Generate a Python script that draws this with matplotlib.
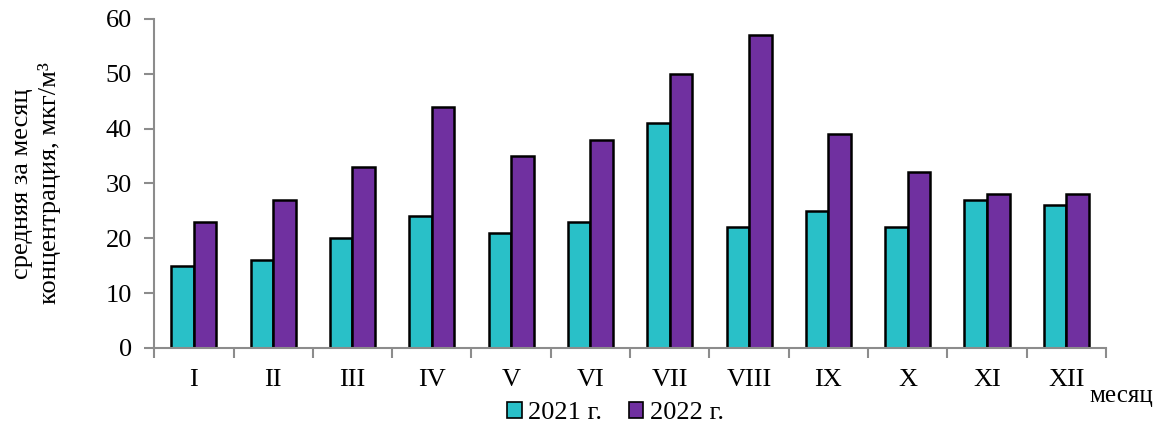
import numpy as np
import matplotlib.pyplot as plt
from matplotlib.patches import Patch

plt.rcParams['font.family'] = ['Liberation Serif', 'DejaVu Serif']

# Monthly mean concentration, by month
months = ["I", "II", "III", "IV", "V", "VI", "VII", "VIII", "IX", "X", "XI", "XII"]
conc_2021 = [15, 16, 20, 24, 21, 23, 41, 22, 25, 22, 27, 26]
conc_2022 = [23, 27, 33, 44, 35, 38, 50, 57, 39, 32, 28, 28]
series_labels = ["2021 г.", "2022 г."]

c2021 = "#29C0C8"
c2022 = "#7030A0"
axis_gray = "#8C8C8C"

fig = plt.figure(figsize=(11.68, 4.28), dpi=100)
ax = fig.add_axes([0.132, 0.187, 0.815, 0.769])

x = np.arange(len(months))
w = 0.285
ax.bar(x - w / 2, conc_2021, w, color=c2021, edgecolor="black", linewidth=1.8)
ax.bar(x + w / 2, conc_2022, w, color=c2022, edgecolor="black", linewidth=1.8)

ax.set_xlim(-0.5, len(months) - 0.5)
ax.set_ylim(0, 60)
ax.set_yticks(range(0, 61, 10))

# month labels centred, tick marks on category boundaries
ax.set_xticks(x)
ax.set_xticklabels(months, fontsize=19)
ax.tick_params(axis="x", length=0, pad=15)
ax.set_xticks(np.arange(-0.5, len(months), 1), minor=True)
ax.tick_params(axis="x", which="minor", length=7, width=1.5, color=axis_gray, direction="out")
ax.tick_params(axis="y", labelsize=19, length=7, width=1.5, color=axis_gray, direction="out",
               pad=9)

for side in ("top", "right"):
    ax.spines[side].set_visible(False)
for side in ("left", "bottom"):
    ax.spines[side].set_color(axis_gray)
    ax.spines[side].set_linewidth(1.5)

ax.set_ylabel("средняя за месяц\nконцентрация, мкг/м³", fontsize=19, labelpad=32,
              linespacing=1.3)

fig.text(0.933, 0.075, "месяц", fontsize=18, ha="left", va="center")

handles = [Patch(facecolor=c2021, edgecolor="black", linewidth=1.2),
           Patch(facecolor=c2022, edgecolor="black", linewidth=1.2)]
fig.legend(handles, series_labels, loc="center", bbox_to_anchor=(0.527, 0.035),
           ncol=2, frameon=False, fontsize=19, handlelength=0.55, handleheight=0.55,
           handletextpad=0.25, columnspacing=1.0, borderpad=0)

fig.savefig("out.png", dpi=100)
